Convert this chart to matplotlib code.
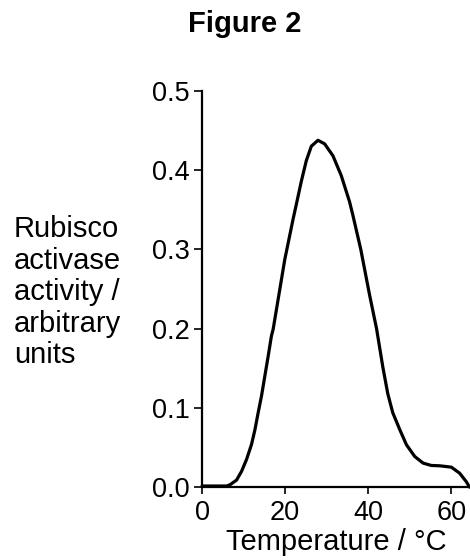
import numpy as np
import matplotlib
matplotlib.use("Agg")
import matplotlib.pyplot as plt

plt.rcParams['font.family'] = ['Liberation Sans', 'DejaVu Sans']

# values
temp = [0, 3, 5.9, 6.7, 8.3, 9.5, 10.7, 11.9, 12.7, 13.5, 14.3, 15.1, 15.9,
        16.7, 17.1, 19.9, 21.9, 22.7, 23.9, 25.1, 26.3, 27.9, 29.5, 31.5,
        33.5, 35.5, 36.3, 38.2, 40.3, 42.0, 43.5, 44.7, 45.9, 47.6, 49.2,
        51.2, 53.2, 55.2, 57.2, 60.0, 62.0, 63.6, 64.4]
activity = [0.0015, 0.0015, 0.0015, 0.003, 0.009, 0.020, 0.035, 0.054,
            0.072, 0.094, 0.115, 0.140, 0.165, 0.191, 0.199, 0.287, 0.338,
            0.357, 0.386, 0.412, 0.430, 0.4375, 0.433, 0.418, 0.393, 0.360,
            0.343, 0.300, 0.243, 0.200, 0.152, 0.118, 0.094, 0.0725, 0.0535,
            0.0387, 0.0304, 0.0274, 0.027, 0.0253, 0.0177, 0.007, 0.0]
xticks = [0, 20, 40, 60]
yticks = [0.0, 0.1, 0.2, 0.3, 0.4, 0.5]

fig = plt.figure(figsize=(4.7, 5.6), dpi=100, facecolor='w')
ax = fig.add_axes([0.43, 0.13, 0.57, 0.708])

ax.plot(temp, activity, color='black', linewidth=2.3, clip_on=False,
        solid_joinstyle='round', solid_capstyle='round')

ax.set_xlim(0, 64.5)
ax.set_ylim(0, 0.5)
ax.set_xticks(xticks)
ax.set_yticks(yticks)
ax.set_yticklabels(['{:.1f}'.format(v) for v in yticks])
ax.tick_params(axis='y', direction='out', length=6, width=1.2,
               labelsize=19.5, pad=3)
ax.tick_params(axis='x', direction='out', length=5, width=1.2,
               labelsize=19.5, pad=4)
for s in ['top', 'right']:
    ax.spines[s].set_visible(False)
for s in ['left', 'bottom']:
    ax.spines[s].set_linewidth(1.6)

ax.set_xlabel('Temperature / °C', fontsize=21, labelpad=2)
fig.text(0.03, 0.478, 'Rubisco\nactivase\nactivity /\narbitrary\nunits',
         fontsize=21, ha='left', va='center', linespacing=1.16)
fig.text(0.52, 0.958, 'Figure 2', fontsize=21, fontweight='bold',
         ha='center', va='center')

plt.savefig('out.png', dpi=100)
